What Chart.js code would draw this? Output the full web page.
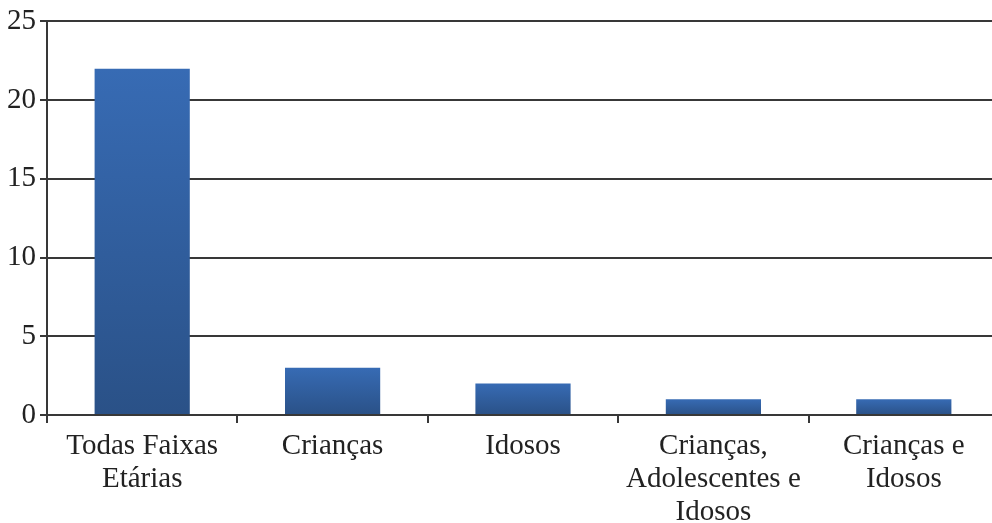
<!DOCTYPE html>
<html lang="pt">
<head>
<meta charset="utf-8">
<title>Faixas etárias</title>
<script src="https://cdn.jsdelivr.net/npm/chart.js@4.4.1/dist/chart.umd.min.js"></script>
<style>
  html, body { margin: 0; padding: 0; background: #ffffff; overflow: hidden; }
  #wrap { position: relative; width: 999px; height: 523px; }
</style>
</head>
<body>
<div id="wrap"><canvas id="chart"></canvas></div>
<script>
// Categorias (rótulos de várias linhas) e número de ocorrências
const categorias = [
  ['Todas Faixas', 'Etárias'],
  ['Crianças'],
  ['Idosos'],
  ['Crianças,', 'Adolescentes e', 'Idosos'],
  ['Crianças e', 'Idosos']
];
const valores = [22, 3, 2, 1, 1];
const escalaY = { min: 0, max: 25, passo: 5 };

const corTexto = '#222222';
const corLinha = '#383838';
const familia = '"Liberation Serif", "Times New Roman", serif';
const fonteX = { family: familia, size: 29, lineHeight: 1.14 };
const fonteY = { family: familia, size: 29 };

// Gradiente vertical em cada barra: mais claro no topo, mais escuro na base
function corBarra(ctx) {
  const chart = ctx.chart;
  if (!chart.chartArea || ctx.type !== 'data') return '#3163a8';
  const y = chart.scales.y;
  const topo = y.getPixelForValue(ctx.raw);
  const base = y.getPixelForValue(0);
  if (!isFinite(topo) || !isFinite(base) || topo === base) return '#3163a8';
  const g = chart.ctx.createLinearGradient(0, topo, 0, base);
  g.addColorStop(0, '#376bb4');
  g.addColorStop(1, '#2a5187');
  return g;
}

new Chart(document.getElementById('chart'), {
  type: 'bar',
  data: {
    labels: categorias,
    datasets: [{
      data: valores,
      backgroundColor: corBarra,
      borderWidth: 0,
      barPercentage: 0.5,
      categoryPercentage: 1.0
    }]
  },
  options: {
    responsive: true,
    maintainAspectRatio: false,
    animation: false,
    layout: { padding: { top: 21, right: 0, bottom: 0, left: 0 } },
    plugins: { legend: { display: false }, tooltip: { enabled: false } },
    scales: {
      x: {
        grid: {
          offset: true,
          drawOnChartArea: false,
          drawTicks: true,
          tickLength: 8,
          color: corLinha,
          lineWidth: 2
        },
        border: { display: true, color: corLinha, width: 2 },
        ticks: { color: corTexto, font: fonteX, padding: 7, maxRotation: 0, autoSkip: false },
        afterFit(s) { s.height = 108; }
      },
      y: {
        min: escalaY.min,
        max: escalaY.max,
        grid: { color: corLinha, lineWidth: 2, tickLength: 7 },
        border: { display: true, color: corLinha, width: 2 },
        ticks: { stepSize: escalaY.passo, color: corTexto, font: fonteY, padding: 4 },
        afterFit(s) { s.width = 47; }
      }
    }
  }
});
</script>
</body>
</html>
